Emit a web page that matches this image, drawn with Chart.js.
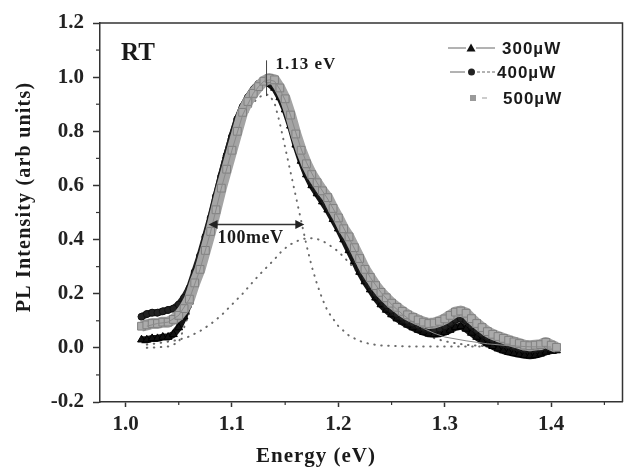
<!DOCTYPE html>
<html><head><meta charset="utf-8">
<script src="https://cdn.jsdelivr.net/npm/chart.js@4"></script>
<style>html,body{margin:0;padding:0;background:#fff}#c{display:block}</style>
</head><body>
<canvas id="c" width="629" height="467"></canvas>
<script>
// ---- data ----
const energy = [1.015,1.02,1.025,1.03,1.035,1.04,1.045,1.05,1.055,1.06,
 1.065,1.07,1.075,1.08,1.085,1.09,1.095,1.1,1.105,1.11,
 1.115,1.12,1.125,1.13,1.135,1.14,1.145,1.15,1.155,1.16,
 1.165,1.17,1.175,1.18,1.185,1.19,1.195,1.2,1.205,1.21,
 1.215,1.22,1.225,1.23,1.235,1.24,1.245,1.25,1.255,1.26,
 1.265,1.27,1.275,1.28,1.285,1.29,1.295,1.3,1.305,1.31,
 1.315,1.32,1.325,1.33,1.335,1.34,1.345,1.35,1.355,1.36,
 1.365,1.37,1.375,1.38,1.385,1.39,1.395,1.4,1.405];
const p300 = [0.03,0.03,0.035,0.035,0.04,0.04,0.05,0.075,0.115,0.17,
 0.25,0.32,0.40,0.475,0.555,0.635,0.71,0.78,0.84,0.89,
 0.925,0.955,0.975,0.98,0.975,0.96,0.925,0.88,0.82,0.75,
 0.69,0.64,0.60,0.57,0.54,0.51,0.475,0.44,0.40,0.36,
 0.32,0.28,0.245,0.215,0.185,0.16,0.14,0.123,0.108,0.096,
 0.085,0.075,0.066,0.058,0.052,0.05,0.052,0.058,0.066,0.076,
 0.08,0.07,0.055,0.04,0.027,0.016,0.006,-0.003,-0.01,-0.016,
 -0.02,-0.024,-0.027,-0.029,-0.027,-0.022,-0.015,-0.01,-0.01];
const p400 = [0.115,0.125,0.13,0.13,0.135,0.14,0.145,0.16,0.185,0.22,
 0.28,0.34,0.41,0.48,0.56,0.635,0.71,0.78,0.845,0.89,
 0.925,0.95,0.975,0.985,0.985,0.97,0.94,0.895,0.835,0.765,
 0.705,0.655,0.615,0.585,0.555,0.525,0.49,0.455,0.415,0.38,
 0.34,0.30,0.26,0.23,0.20,0.178,0.158,0.14,0.125,0.112,
 0.10,0.09,0.082,0.074,0.068,0.068,0.072,0.08,0.092,0.104,
 0.108,0.10,0.082,0.066,0.052,0.04,0.03,0.022,0.015,0.009,
 0.004,0.0,-0.004,-0.006,-0.004,-0.002,0.004,-0.002,-0.006];
const p500 = [0.08,0.085,0.09,0.09,0.095,0.095,0.105,0.12,0.145,0.18,
 0.24,0.29,0.36,0.43,0.51,0.59,0.66,0.73,0.80,0.87,
 0.91,0.94,0.965,0.985,0.995,0.99,0.96,0.92,0.86,0.79,
 0.73,0.68,0.64,0.61,0.58,0.555,0.515,0.48,0.44,0.41,
 0.37,0.33,0.29,0.26,0.23,0.205,0.185,0.165,0.15,0.135,
 0.122,0.112,0.103,0.095,0.09,0.092,0.098,0.107,0.12,0.132,
 0.136,0.128,0.108,0.09,0.075,0.06,0.05,0.042,0.035,0.028,
 0.022,0.016,0.01,0.008,0.01,0.012,0.02,0.01,0.002];
const fitE = [1.02,1.03,1.04,1.05,1.06,1.07,1.08,1.09,1.10,1.11,1.12,1.125,1.13,1.135,1.14,1.145,1.15,1.155,1.16,1.165,1.17,1.175,1.18,1.185,1.19,1.20,1.21,1.22,1.23,1.24,1.25,1.26,1.27,1.28,1.29,1.30,1.32,1.34,1.36,1.38,1.40];
const fitNarrow = [0.0,0.002,0.005,0.02,0.13,0.28,0.43,0.58,0.72,0.84,0.905,0.925,0.935,0.935,0.905,0.83,0.74,0.65,0.56,0.47,0.38,0.30,0.235,0.18,0.135,0.08,0.045,0.025,0.014,0.009,0.007,0.006,0.005,0.005,0.005,0.005,0.005,0.005,0.005,0.005,0.005];
const fitBroad = [0.012,0.017,0.023,0.03,0.042,0.062,0.088,0.12,0.16,0.2,0.245,0.267,0.287,0.307,0.327,0.35,0.368,0.382,0.393,0.4,0.405,0.405,0.402,0.395,0.384,0.356,0.315,0.27,0.222,0.178,0.138,0.104,0.076,0.053,0.036,0.024,0.011,0.006,0.004,0.003,0.002];
const fitSum = [0.08,0.09,0.095,0.12,0.18,0.29,0.43,0.59,0.73,0.86,0.94,0.965,0.985,0.99,0.985,0.955,0.915,0.86,0.795,0.735,0.685,0.645,0.61,0.58,0.55,0.48,0.405,0.33,0.26,0.205,0.16,0.125,0.095,0.072,0.054,0.04,0.026,0.015,0.008,0.004,0.003];
const seriesNames = ['300\u00b5W','400\u00b5W','500\u00b5W'];
const xTicks = [1.0,1.1,1.2,1.3,1.4];
const xMinor = [1.05,1.15,1.25,1.35,1.45];
const yTicks = [-0.2,0.0,0.2,0.4,0.6,0.8,1.0,1.2];
const yMinor = [-0.1,0.1,0.3,0.5,0.7,0.9,1.1];
const peakE = 1.1325, peakTop = 1.062, peakBottom = 0.93, peakLabel = '1.13 eV';
const fwhmStart = 1.078, fwhmEnd = 1.168, fwhmLevel = 0.456, fwhmLabel = '100meV';
const panelLabel = 'RT';
const xTitle = 'Energy (eV)', yTitle = 'PL Intensity (arb units)';

const pts = (xs, ys) => xs.map((x, i) => ({x, y: ys[i]}));
const SERIF = '"Liberation Serif", "Times New Roman", serif';
const SANS = '"Liberation Sans", Arial, sans-serif';

const decor = {
  id: 'decor',
  afterDraw(chart) {
    const {ctx, chartArea: a, scales: {x, y}} = chart;
    ctx.save();
    ctx.strokeStyle = '#333'; ctx.lineWidth = 1.5;
    ctx.beginPath(); ctx.moveTo(a.left, a.top); ctx.lineTo(a.right, a.top); ctx.lineTo(a.right, a.bottom); ctx.stroke();
    ctx.lineWidth = 1.2;
    xMinor.forEach(v => { const px = x.getPixelForValue(v); if (px < a.left || px > a.right) return;
      ctx.beginPath(); ctx.moveTo(px, a.bottom); ctx.lineTo(px, a.bottom + 3); ctx.stroke(); });
    yMinor.forEach(v => { const py = y.getPixelForValue(v);
      ctx.beginPath(); ctx.moveTo(a.left, py); ctx.lineTo(a.left - 4, py); ctx.stroke(); });
    // peak marker
    const pxPeak = x.getPixelForValue(peakE);
    ctx.strokeStyle = '#444'; ctx.lineWidth = 1;
    ctx.beginPath(); ctx.moveTo(pxPeak, y.getPixelForValue(peakTop)); ctx.lineTo(pxPeak, y.getPixelForValue(peakBottom)); ctx.stroke();
    ctx.fillStyle = '#1a1a1a';
    ctx.textBaseline = 'alphabetic'; ctx.textAlign = 'left';
    ctx.font = 'bold 17px ' + SERIF; ctx.letterSpacing = '1px';
    ctx.fillText(peakLabel, pxPeak + 9, y.getPixelForValue(1.03));
    // FWHM arrow
    const x1 = x.getPixelForValue(fwhmStart), x2 = x.getPixelForValue(fwhmEnd), ya = y.getPixelForValue(fwhmLevel);
    ctx.strokeStyle = '#333'; ctx.lineWidth = 1.5;
    ctx.beginPath(); ctx.moveTo(x1 + 6, ya); ctx.lineTo(x2 - 6, ya); ctx.stroke();
    ctx.fillStyle = '#222';
    ctx.beginPath(); ctx.moveTo(x1, ya); ctx.lineTo(x1 + 9, ya - 4.5); ctx.lineTo(x1 + 9, ya + 4.5); ctx.closePath(); ctx.fill();
    ctx.beginPath(); ctx.moveTo(x2, ya); ctx.lineTo(x2 - 9, ya - 4.5); ctx.lineTo(x2 - 9, ya + 4.5); ctx.closePath(); ctx.fill();
    ctx.fillStyle = '#1a1a1a';
    ctx.font = 'bold 18px ' + SERIF; ctx.letterSpacing = '0.5px';
    ctx.fillText(fwhmLabel, x1 + 9, ya + 19);
    // panel label
    ctx.font = 'bold 25px ' + SERIF; ctx.letterSpacing = '0px';
    ctx.fillText(panelLabel, a.left + 21, a.top + 37);
    // axis titles
    ctx.font = 'bold 21px ' + SERIF; ctx.letterSpacing = '1px'; ctx.textAlign = 'center';
    ctx.fillText(xTitle, 316, 462);
    ctx.save(); ctx.translate(30, 197); ctx.rotate(-Math.PI / 2);
    ctx.font = 'bold 20px ' + SERIF; ctx.letterSpacing = '1.2px';
    ctx.fillText(yTitle, 0, 0); ctx.restore();
    // legend
    ctx.letterSpacing = '1px'; ctx.textAlign = 'left'; ctx.textBaseline = 'middle';
    ctx.font = 'bold 17px ' + SANS;
    ctx.strokeStyle = '#666'; ctx.lineWidth = 1;
    let ly = 48;
    ctx.beginPath(); ctx.moveTo(448, ly); ctx.lineTo(466, ly); ctx.moveTo(476, ly); ctx.lineTo(495, ly); ctx.stroke();
    ctx.fillStyle = '#111';
    ctx.beginPath(); ctx.moveTo(471, ly - 4.5); ctx.lineTo(475.5, ly + 3.5); ctx.lineTo(466.5, ly + 3.5); ctx.closePath(); ctx.fill();
    ctx.fillStyle = '#1a1a1a'; ctx.fillText(seriesNames[0], 502, ly + 1);
    ly = 72;
    ctx.beginPath(); ctx.moveTo(450, ly); ctx.lineTo(465, ly); ctx.stroke();
    ctx.setLineDash([3, 2]); ctx.beginPath(); ctx.moveTo(477, ly); ctx.lineTo(495, ly); ctx.stroke(); ctx.setLineDash([]);
    ctx.fillStyle = '#222'; ctx.beginPath(); ctx.arc(471.5, ly, 3.5, 0, Math.PI * 2); ctx.fill();
    ctx.fillStyle = '#1a1a1a'; ctx.fillText(seriesNames[1], 497, ly + 1);
    ly = 98;
    ctx.fillStyle = '#9a9a9a'; ctx.fillRect(470, ly - 3, 6, 6);
    ctx.strokeStyle = '#999'; ctx.beginPath(); ctx.moveTo(482, ly); ctx.lineTo(487, ly); ctx.stroke();
    ctx.fillStyle = '#1a1a1a'; ctx.fillText(seriesNames[2], 503, ly + 1);
    ctx.restore();
  }
};

const dotted = (data, order) => ({data, order, showLine: true, pointRadius: 0, borderColor: '#6a6a6a', borderWidth: 2,
  borderDash: [0.5, 6.5], borderCapStyle: 'round', fill: false});

new Chart(document.getElementById('c'), {
  type: 'scatter',
  data: {
    datasets: [
      {label: 'fit', data: pts(fitE, fitSum), order: 0, showLine: true, pointRadius: 0, borderColor: '#8a8a8a', borderWidth: 1},
      {label: seriesNames[2], data: pts(energy, p500), order: 1, showLine: true, borderColor: '#a4a4a4', borderWidth: 11,
        borderJoinStyle: 'round', pointStyle: 'rect', pointRadius: 5.5, pointBackgroundColor: '#ababab', pointBorderColor: '#808080', pointBorderWidth: 1},
      {label: seriesNames[1], data: pts(energy, p400), order: 2, showLine: true, borderColor: '#1e1e1e', borderWidth: 7,
        borderJoinStyle: 'round', pointStyle: 'circle', pointRadius: 3.5, pointBackgroundColor: '#222', pointBorderColor: '#111', pointBorderWidth: 1},
      {label: seriesNames[0], data: pts(energy, p300), order: 3, showLine: true, borderColor: '#141414', borderWidth: 7,
        borderJoinStyle: 'round', pointStyle: 'triangle', pointRadius: 4.5, pointBackgroundColor: '#111', pointBorderColor: '#000', pointBorderWidth: 1},
      Object.assign({label: 'narrow'}, dotted(pts(fitE, fitNarrow), 4)),
      Object.assign({label: 'broad'}, dotted(pts(fitE, fitBroad), 5))
    ]
  },
  options: {
    responsive: false, animation: false, devicePixelRatio: 1,
    layout: {padding: {top: 23, right: 1, left: 0, bottom: 0}},
    plugins: {legend: {display: false}, tooltip: {enabled: false}},
    scales: {
      x: {type: 'linear', min: 0.976, max: 1.467,
        afterFit(s) { s.height = 65; },
        afterBuildTicks(s) { s.ticks = xTicks.map(v => ({value: v})); },
        ticks: {callback: v => Number(v).toFixed(1), font: {family: SERIF, weight: 'bold', size: 21}, color: '#222', padding: 5, maxRotation: 0, autoSkip: false},
        grid: {drawOnChartArea: false, drawTicks: true, tickLength: 5, tickColor: '#333', tickWidth: 1.5},
        border: {display: true, color: '#333', width: 1.5}
      },
      y: {type: 'linear', min: -0.2, max: 1.2,
        afterFit(s) { s.width = 100; },
        afterBuildTicks(s) { s.ticks = yTicks.map(v => ({value: v})); },
        ticks: {callback: v => Number(v).toFixed(1), font: {family: SERIF, weight: 'bold', size: 21}, color: '#222', padding: 9, autoSkip: false},
        grid: {drawOnChartArea: false, drawTicks: true, tickLength: 7, tickColor: '#333', tickWidth: 1.5},
        border: {display: true, color: '#333', width: 1.5}
      }
    }
  },
  plugins: [decor]
});
</script>
</body></html>
